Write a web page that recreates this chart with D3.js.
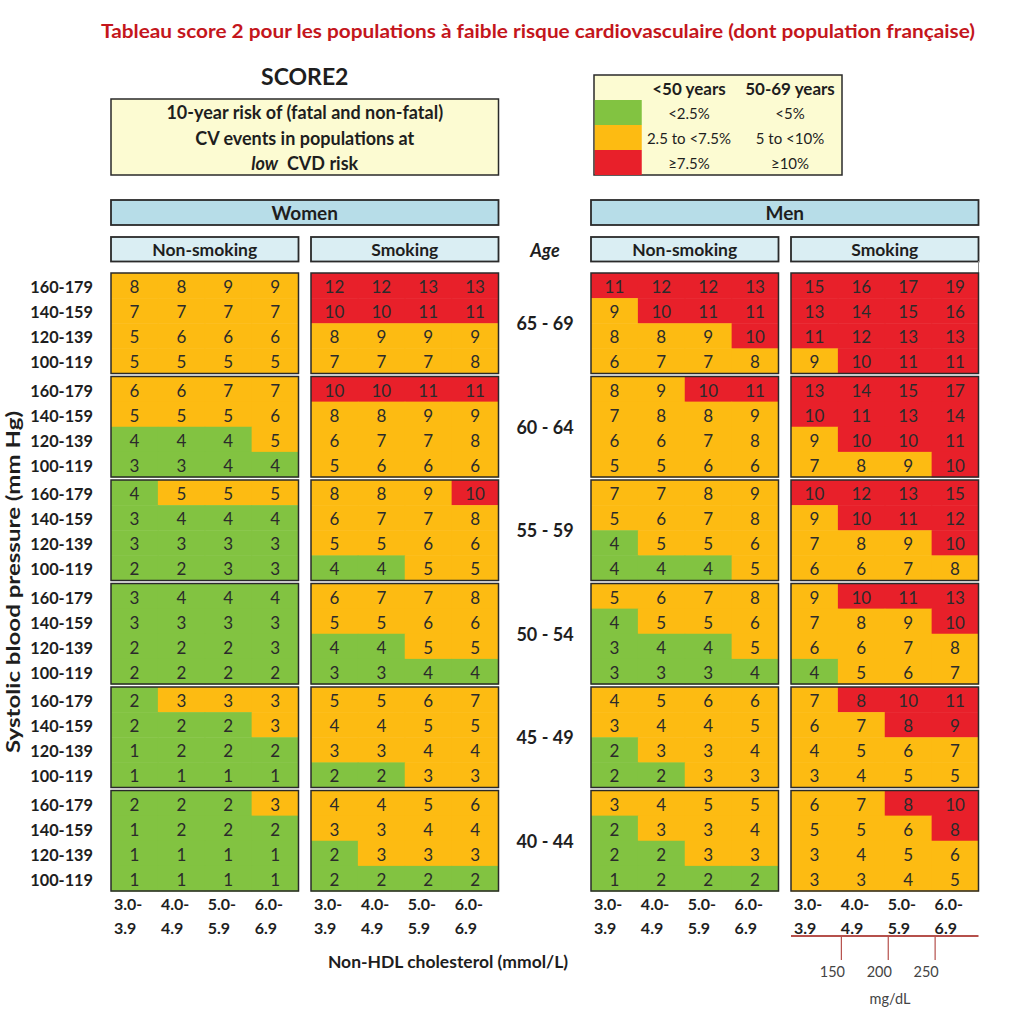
<!DOCTYPE html>
<html>
<head>
<meta charset="utf-8">
<script src="https://cdn.jsdelivr.net/npm/d3@7"></script>
<style>
  body { margin: 0; background: #fff; }
  text { font-family: Lato, "Open Sans", sans-serif; fill: #1e1e1e; }
</style>
</head>
<body>
<svg id="chart" width="1024" height="1024"></svg>
<script>
// SCORE2 - low risk populations

var ages = ["65 - 69", "60 - 64", "55 - 59", "50 - 54", "45 - 49", "40 - 44"];
var sbp = ["160-179", "140-159", "120-139", "100-119"];
var cholTop = ["3.0-", "4.0-", "5.0-", "6.0-"];
var cholBottom = ["3.9", "4.9", "5.9", "6.9"];
var sexes = ["Women", "Men"];
var smoking = ["Non-smoking", "Smoking"];

// rows = age block x sbp (top to bottom), columns = cholesterol
var womenNonSmoking = [
  [8, 8, 9, 9], [7, 7, 7, 7], [5, 6, 6, 6], [5, 5, 5, 5],
  [6, 6, 7, 7], [5, 5, 5, 6], [4, 4, 4, 5], [3, 3, 4, 4],
  [4, 5, 5, 5], [3, 4, 4, 4], [3, 3, 3, 3], [2, 2, 3, 3],
  [3, 4, 4, 4], [3, 3, 3, 3], [2, 2, 2, 3], [2, 2, 2, 2],
  [2, 3, 3, 3], [2, 2, 2, 3], [1, 2, 2, 2], [1, 1, 1, 1],
  [2, 2, 2, 3], [1, 2, 2, 2], [1, 1, 1, 1], [1, 1, 1, 1]
];
var womenSmoking = [
  [12, 12, 13, 13], [10, 10, 11, 11], [8, 9, 9, 9], [7, 7, 7, 8],
  [10, 10, 11, 11], [8, 8, 9, 9], [6, 7, 7, 8], [5, 6, 6, 6],
  [8, 8, 9, 10], [6, 7, 7, 8], [5, 5, 6, 6], [4, 4, 5, 5],
  [6, 7, 7, 8], [5, 5, 6, 6], [4, 4, 5, 5], [3, 3, 4, 4],
  [5, 5, 6, 7], [4, 4, 5, 5], [3, 3, 4, 4], [2, 2, 3, 3],
  [4, 4, 5, 6], [3, 3, 4, 4], [2, 3, 3, 3], [2, 2, 2, 2]
];
var menNonSmoking = [
  [11, 12, 12, 13], [9, 10, 11, 11], [8, 8, 9, 10], [6, 7, 7, 8],
  [8, 9, 10, 11], [7, 8, 8, 9], [6, 6, 7, 8], [5, 5, 6, 6],
  [7, 7, 8, 9], [5, 6, 7, 8], [4, 5, 5, 6], [4, 4, 4, 5],
  [5, 6, 7, 8], [4, 5, 5, 6], [3, 4, 4, 5], [3, 3, 3, 4],
  [4, 5, 6, 6], [3, 4, 4, 5], [2, 3, 3, 4], [2, 2, 3, 3],
  [3, 4, 5, 5], [2, 3, 3, 4], [2, 2, 3, 3], [1, 2, 2, 2]
];
var menSmoking = [
  [15, 16, 17, 19], [13, 14, 15, 16], [11, 12, 13, 13], [9, 10, 11, 11],
  [13, 14, 15, 17], [10, 11, 13, 14], [9, 10, 10, 11], [7, 8, 9, 10],
  [10, 12, 13, 15], [9, 10, 11, 12], [7, 8, 9, 10], [6, 6, 7, 8],
  [9, 10, 11, 13], [7, 8, 9, 10], [6, 6, 7, 8], [4, 5, 6, 7],
  [7, 8, 10, 11], [6, 7, 8, 9], [4, 5, 6, 7], [3, 4, 5, 5],
  [6, 7, 8, 10], [5, 5, 6, 8], [3, 4, 5, 6], [3, 3, 4, 5]
];

var legendUnder50 = ["<2.5%", "2.5 to <7.5%", "\u22657.5%"];
var legend50to69 = ["<5%", "5 to <10%", "\u226510%"];
var mgTicks = [150, 200, 250];

var riskColors = ["#82c341", "#fdbb12", "#e8202a"];
var colorUnder50 = d3.scaleThreshold().domain([2.5, 7.5]).range(riskColors);
var color50to69 = d3.scaleThreshold().domain([5, 10]).range(riskColors);

var svg = d3.select("#chart");
var dark = "#2a2a2a";

// title
svg.append("text")
    .attr("x", 538).attr("y", 30)
    .attr("text-anchor", "middle").attr("dominant-baseline", "central")
    .attr("textLength", 874).attr("lengthAdjust", "spacingAndGlyphs")
    .style("font-size", "19.5px").style("font-weight", "bold").style("fill", "#c4161c")
    .text("Tableau score 2 pour les populations \u00e0 faible risque cardiovasculaire (dont population fran\u00e7aise)");

// scales
var groupX = d3.scaleBand().domain(sexes).range([111, 978.5]).paddingInner(0.1927);
var panelX = d3.scaleBand().domain(smoking).range([0, groupX.bandwidth()]).paddingInner(0.0625);
var colX = d3.scaleBand().domain(d3.range(4)).range([0, panelX.bandwidth()]);
var blockY = d3.scaleBand().domain(ages).range([273, 891]).paddingInner(0.029);
var rowY = d3.scaleBand().domain(sbp).range([0, blockY.bandwidth()]);

// SCORE2 + description box
var womenCx = groupX("Women") + groupX.bandwidth() / 2;
svg.append("text")
    .attr("x", womenCx).attr("y", 76)
    .attr("text-anchor", "middle").attr("dominant-baseline", "central")
    .style("font-size", "23px").style("font-weight", "bold")
    .text("SCORE2");

svg.append("rect")
    .attr("x", groupX("Women")).attr("y", 99)
    .attr("width", groupX.bandwidth()).attr("height", 76)
    .attr("fill", "#fcfbd2").attr("stroke", dark).attr("stroke-width", 1.5);

var info = ["10-year risk of (fatal and non-fatal)", "CV events in populations at"];
svg.selectAll(".info").data(info).enter().append("text")
    .attr("class", "info")
    .attr("x", womenCx).attr("y", function(d, i) { return 112 + i * 25.5; })
    .attr("text-anchor", "middle").attr("dominant-baseline", "central")
    .style("font-size", "18px").style("font-weight", "bold")
    .text(function(d) { return d; });
var low = svg.append("text")
    .attr("x", womenCx).attr("y", 163)
    .attr("text-anchor", "middle").attr("dominant-baseline", "central")
    .style("font-size", "18px").style("font-weight", "bold");
low.append("tspan").style("font-style", "italic").text("low");
low.append("tspan").text("\u00a0 CVD risk");

// legend
var lg = svg.append("g").attr("transform", "translate(594,75)");
lg.append("rect").attr("width", 248).attr("height", 100)
    .attr("fill", "#fcfbd2").attr("stroke", dark).attr("stroke-width", 1.5);
lg.selectAll(".sw").data(riskColors).enter().append("rect")
    .attr("x", 0.75).attr("y", function(d, i) { return 25 + i * 25; })
    .attr("width", 47).attr("height", 25)
    .attr("fill", function(d) { return d; });
lg.selectAll(".hd").data(["<50 years", "50-69 years"]).enter().append("text")
    .attr("x", function(d, i) { return i ? 196 : 95; }).attr("y", 13)
    .attr("text-anchor", "middle").attr("dominant-baseline", "central")
    .style("font-size", "17px").style("font-weight", "bold")
    .text(function(d) { return d; });
[legendUnder50, legend50to69].forEach(function(col, k) {
  lg.selectAll(".l" + k).data(col).enter().append("text")
      .attr("x", k ? 196 : 95).attr("y", function(d, i) { return 38 + i * 25; })
      .attr("text-anchor", "middle").attr("dominant-baseline", "central")
      .style("font-size", "15px")
      .text(function(d) { return d; });
});

// sex headers and smoking sub headers
sexes.forEach(function(sex) {
  var gx = groupX(sex);
  svg.append("rect")
      .attr("x", gx).attr("y", 200).attr("width", groupX.bandwidth()).attr("height", 25)
      .attr("fill", "#b7dde8").attr("stroke", dark).attr("stroke-width", 1.8);
  svg.append("text")
      .attr("x", gx + groupX.bandwidth() / 2).attr("y", 212.5)
      .attr("text-anchor", "middle").attr("dominant-baseline", "central")
      .style("font-size", "19px").style("font-weight", "bold")
      .text(sex);
  smoking.forEach(function(s) {
    svg.append("rect")
        .attr("x", gx + panelX(s)).attr("y", 237).attr("width", panelX.bandwidth()).attr("height", 24.5)
        .attr("fill", "#daeef3").attr("stroke", dark).attr("stroke-width", 1.8);
    svg.append("text")
        .attr("x", gx + panelX(s) + panelX.bandwidth() / 2).attr("y", 249.5)
        .attr("text-anchor", "middle").attr("dominant-baseline", "central")
        .style("font-size", "17.5px").style("font-weight", "bold")
        .text(s);
  });
});

svg.append("line")
    .attr("x1", 978.5).attr("x2", 978.5).attr("y1", 261).attr("y2", 273)
    .attr("stroke", "#888").attr("stroke-width", 1);

svg.append("text")
    .attr("x", 545).attr("y", 250)
    .attr("text-anchor", "middle").attr("dominant-baseline", "central")
    .style("font-size", "18px").style("font-weight", "bold").style("font-style", "italic")
    .text("Age");

// grids
var panels = [
  { sex: "Women", smoke: "Non-smoking", values: womenNonSmoking },
  { sex: "Women", smoke: "Smoking", values: womenSmoking },
  { sex: "Men", smoke: "Non-smoking", values: menNonSmoking },
  { sex: "Men", smoke: "Smoking", values: menSmoking }
];

panels.forEach(function(p) {
  var px = groupX(p.sex) + panelX(p.smoke);
  ages.forEach(function(age, a) {
    var color = parseInt(age) < 50 ? colorUnder50 : color50to69;
    var block = svg.append("g")
        .attr("transform", "translate(" + px + "," + blockY(age) + ")");
    var cells = [];
    sbp.forEach(function(bp, r) {
      p.values[a * 4 + r].forEach(function(v, c) {
        cells.push({ bp: bp, col: c, value: v });
      });
    });
    block.selectAll("rect.cell").data(cells).enter().append("rect")
        .attr("class", "cell")
        .attr("x", function(d) { return colX(d.col); })
        .attr("y", function(d) { return rowY(d.bp); })
        .attr("width", colX.bandwidth() + 0.5)
        .attr("height", rowY.bandwidth() + 0.5)
        .attr("fill", function(d) { return color(d.value); });
    block.selectAll("text.val").data(cells).enter().append("text")
        .attr("class", "val")
        .attr("x", function(d) { return colX(d.col) + colX.bandwidth() / 2; })
        .attr("y", function(d) { return rowY(d.bp) + rowY.bandwidth() / 2 + 1; })
        .attr("text-anchor", "middle").attr("dominant-baseline", "central")
        .style("font-size", "17px").style("fill", "#2b2b2b")
        .text(function(d) { return d.value; });
    block.append("rect")
        .attr("width", panelX.bandwidth()).attr("height", blockY.bandwidth())
        .attr("fill", "none").attr("stroke", dark).attr("stroke-width", 1.5);
  });

  // cholesterol labels
  [cholTop, cholBottom].forEach(function(lbls, k) {
    svg.selectAll(null).data(lbls).enter().append("text")
        .attr("x", function(d, i) { return px + colX(i) + 3; })
        .attr("y", 903 + k * 24)
        .attr("dominant-baseline", "central")
        .style("font-size", "16px").style("font-weight", "bold")
        .text(function(d) { return d; });
  });
});

// row labels and age labels
ages.forEach(function(age) {
  svg.selectAll(null).data(sbp).enter().append("text")
      .attr("x", 93)
      .attr("y", function(d) { return blockY(age) + rowY(d) + rowY.bandwidth() / 2 + 1; })
      .attr("text-anchor", "end").attr("dominant-baseline", "central")
      .style("font-size", "16.3px").style("font-weight", "bold")
      .text(function(d) { return d; });
  svg.append("text")
      .attr("x", 545).attr("y", blockY(age) + blockY.bandwidth() / 2)
      .attr("text-anchor", "middle").attr("dominant-baseline", "central")
      .style("font-size", "18px").style("font-weight", "bold")
      .text(age);
});

svg.append("text")
    .attr("transform", "translate(12,582) rotate(-90)")
    .attr("text-anchor", "middle").attr("dominant-baseline", "central")
    .attr("textLength", 342).attr("lengthAdjust", "spacingAndGlyphs")
    .style("font-size", "19.5px").style("font-weight", "bold")
    .text("Systolic blood pressure (mm Hg)");

svg.append("text")
    .attr("x", 448).attr("y", 961)
    .attr("text-anchor", "middle").attr("dominant-baseline", "central")
    .style("font-size", "17.5px").style("font-weight", "bold")
    .text("Non-HDL cholesterol (mmol/L)");

// mg/dL scale under men smoking
var smokeLeft = groupX("Men") + panelX("Smoking");
var mgX = d3.scaleLinear().domain([150, 250])
    .range([smokeLeft + colX(1) + 3, smokeLeft + colX(3) + 3]);
var mgAxis = svg.append("g")
    .attr("transform", "translate(0,936)")
    .call(d3.axisBottom(mgX).tickValues(mgTicks).tickSize(24).tickPadding(7));
mgAxis.select(".domain").remove();
mgAxis.selectAll(".tick line").attr("stroke", "#b5504b").attr("stroke-width", 1.2);
mgAxis.selectAll(".tick text")
    .attr("dx", -9)
    .style("font-size", "14.5px").style("fill", "#444").style("font-family", "Lato, sans-serif");
svg.append("line")
    .attr("x1", smokeLeft).attr("x2", smokeLeft + panelX.bandwidth())
    .attr("y1", 936).attr("y2", 936)
    .attr("stroke", "#b5504b").attr("stroke-width", 2.2);
svg.append("text")
    .attr("x", 890).attr("y", 998)
    .attr("text-anchor", "middle").attr("dominant-baseline", "central")
    .style("font-size", "14.5px").style("fill", "#444")
    .text("mg/dL");
</script>
</body>
</html>
